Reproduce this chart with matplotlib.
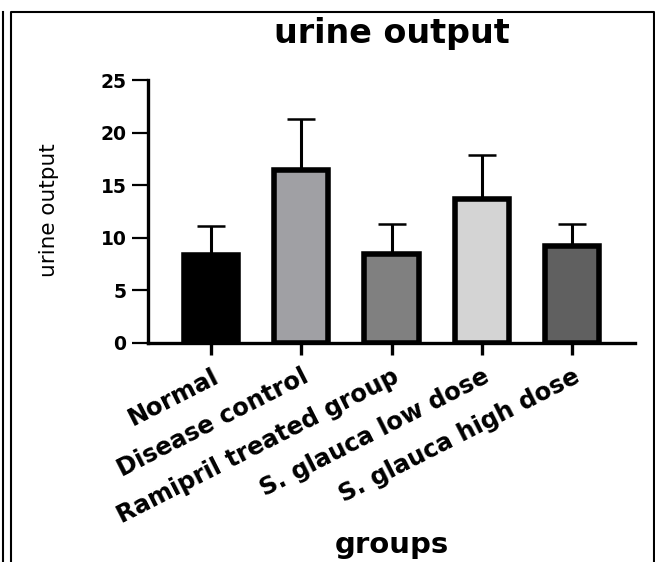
import numpy as np
import matplotlib
matplotlib.use("Agg")
from matplotlib import pyplot as plt
from matplotlib.lines import Line2D
from matplotlib.transforms import ScaledTranslation

# datos
grupos = ['Normal', 'Disease control', 'Ramipril treated group',
          'S. glauca low dose', 'S. glauca high dose']
medias = [8.37, 16.44, 8.46, 13.66, 9.25]
erro_sup = [2.75, 4.85, 2.88, 4.18, 2.06]
cores = ['#000000', '#a0a0a4', '#808080', '#d4d4d4', '#606060']
yticks = [0, 5, 10, 15, 20, 25]

plt.rcParams['font.family'] = ['DejaVu Sans']

fig = plt.figure(figsize=(6.55, 5.62), dpi=100)
ax = fig.add_axes([148/655, 1-343/562, 487/655, 263/562])

x = np.arange(len(grupos))
ax.bar(x, medias, width=0.6, color=cores, edgecolor='black', linewidth=4, zorder=3)
ax.errorbar(x, medias, yerr=[np.zeros(len(medias)), erro_sup], fmt='none',
            ecolor='black', elinewidth=2.2, capsize=10, capthick=1.8, zorder=2)

ax.set_xlim(-0.7, 4.7)
ax.set_ylim(0, 25)
ax.set_yticks(yticks)
ax.set_xticks(x)

for s in ['top', 'right']:
    ax.spines[s].set_visible(False)
for s in ['left', 'bottom']:
    ax.spines[s].set_linewidth(2.4)
ax.tick_params(axis='y', length=11.5, width=1.6, pad=4)
ax.tick_params(axis='x', length=8.5, width=2.4, pad=13)

ax.set_xticklabels(grupos, rotation=27, ha='right', va='center',
                   rotation_mode='anchor', fontweight='bold', fontsize=17.5)
ax.set_yticklabels([str(t) for t in yticks], fontweight='bold', fontsize=13.5)

# empurra os rotulos um pouco para a direita
desloc = ScaledTranslation(0.06, -0.02, fig.dpi_scale_trans)
for lbl in ax.get_xticklabels():
    lbl.set_transform(lbl.get_transform() + desloc)

fig.text(392/655, 1-43/562, 'urine output', ha='center', va='baseline',
         fontsize=24, fontweight='bold')
fig.text(49/655, 1-210/562, 'urine output', ha='center', va='center',
         rotation=90, fontsize=15.5)
fig.text(392/655, 1-553/562, 'groups', ha='center', va='baseline',
         fontsize=21, fontweight='bold')

# moldura da imagem
lw = 1.5
fig.add_artist(Line2D([3.3/655, 3.3/655], [0, 1-12/562], color='black', lw=lw))
fig.add_artist(Line2D([10.7/655, 10.7/655, 654/655, 654/655],
                      [0, 1-11.7/562, 1-11.7/562, 0], color='black', lw=lw))

plt.savefig('out.png', dpi=100)
